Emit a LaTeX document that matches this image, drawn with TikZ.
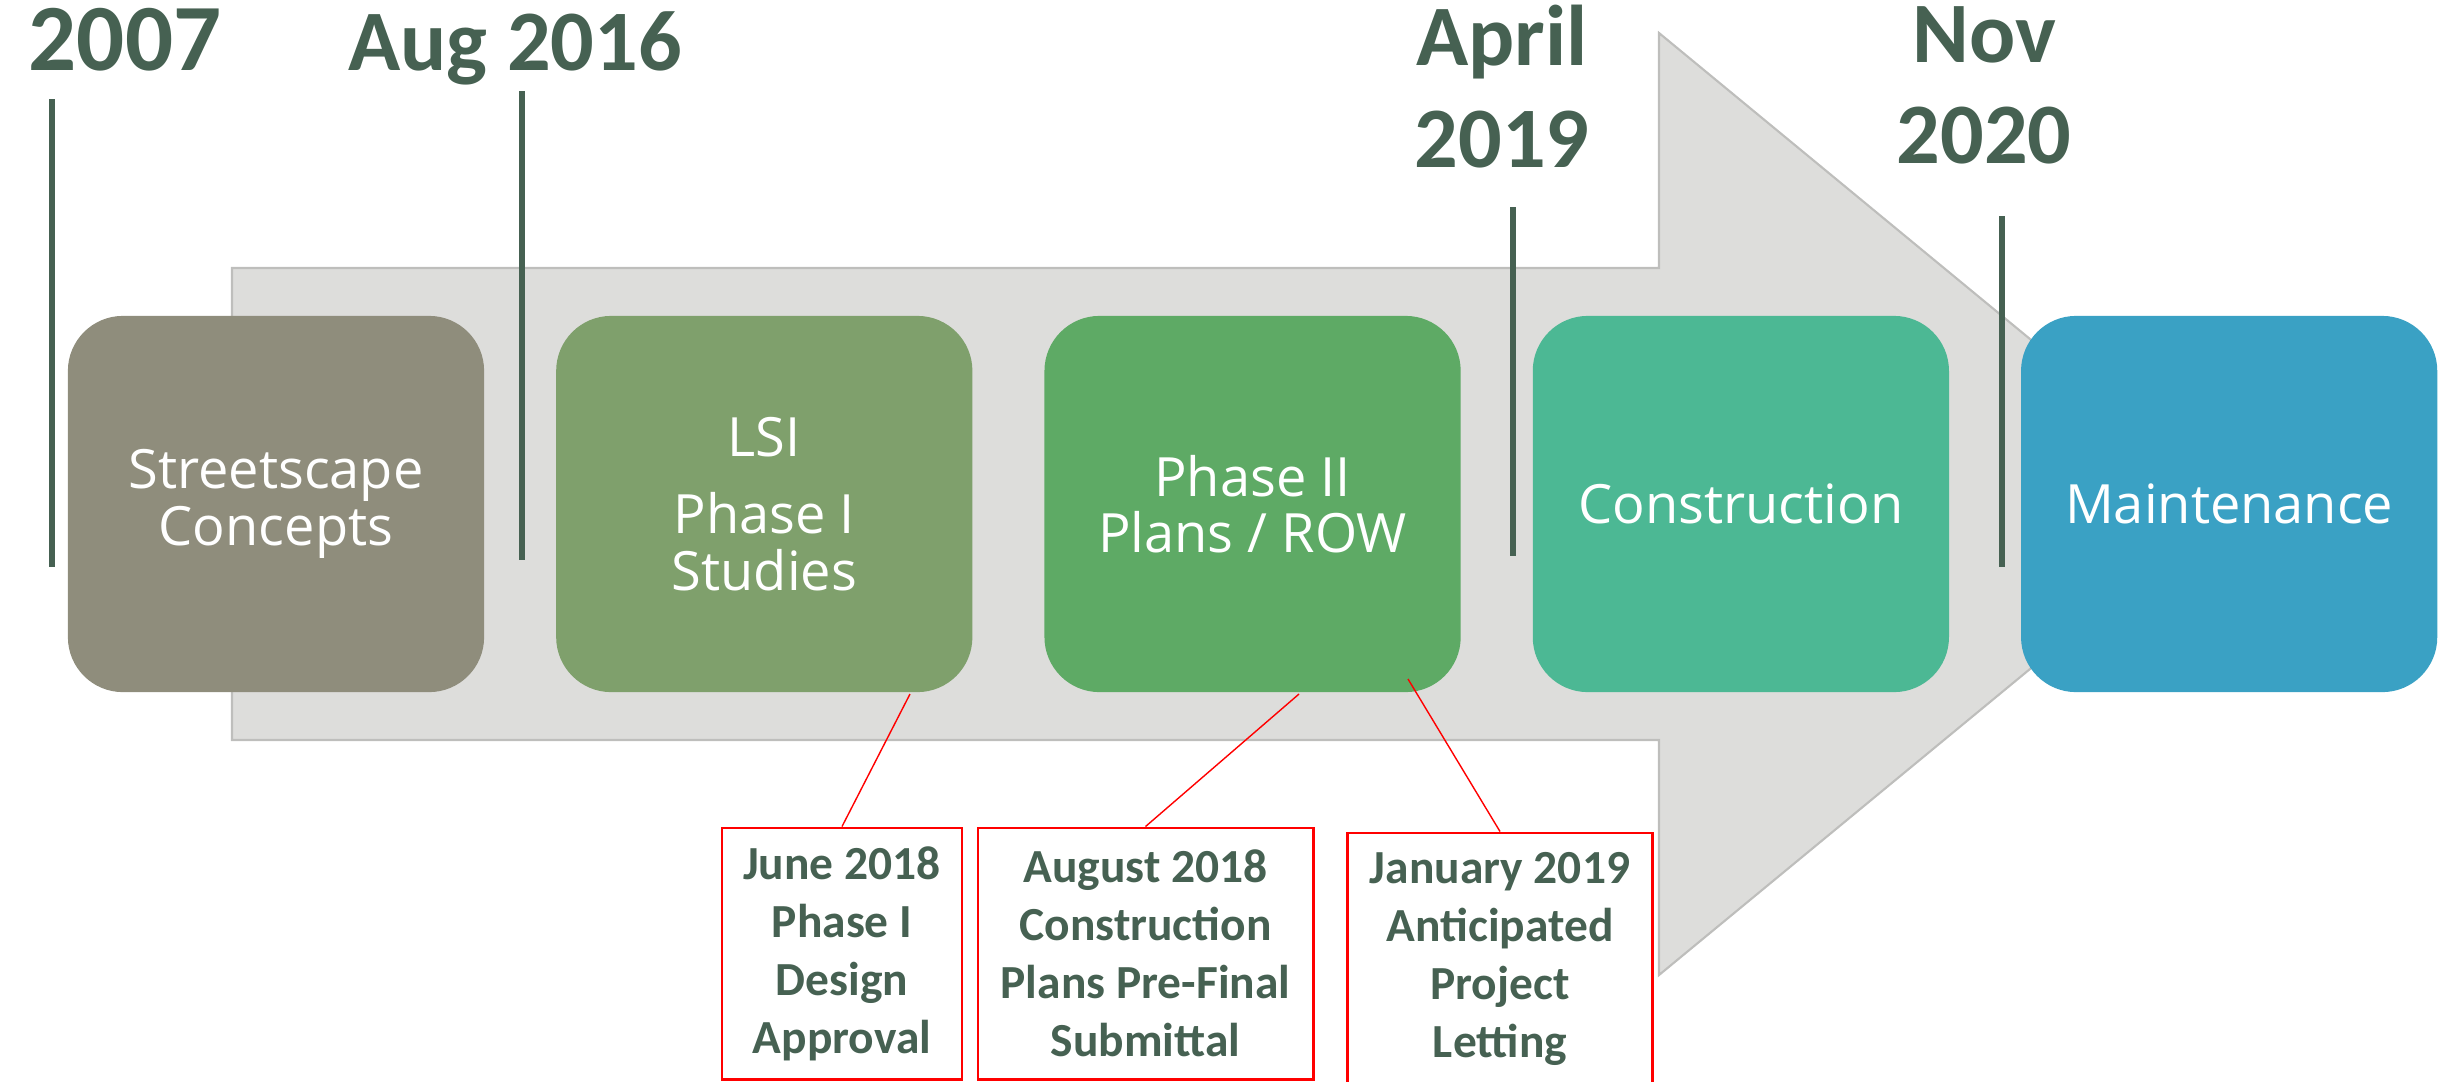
\documentclass[tikz,border=0pt]{standalone}
\usepackage{fontspec}
\setmainfont{Carlito}
\newfontfamily\stagefont{Open Sans}
\usetikzlibrary{positioning}

\definecolor{dategreen}{RGB}{70,97,82}
\definecolor{arrowgray}{RGB}{221,221,219}
\definecolor{arrowedge}{RGB}{190,190,188}
\definecolor{stageA}{RGB}{143,141,124}
\definecolor{stageB}{RGB}{127,160,108}
\definecolor{stageC}{RGB}{94,170,101}
\definecolor{stageD}{RGB}{76,184,148}
\definecolor{stageE}{RGB}{58,161,196}

\begin{document}
\begin{tikzpicture}[x=0.01cm,y=-0.01cm,
  stage/.style={fill=#1,rounded corners=0.55cm,minimum width=4.16cm,minimum height=3.76cm,
    inner sep=0pt,outer sep=0pt,text=white,align=center,font=\stagefont\fontsize{15.4}{16}\selectfont},
  date/.style={anchor=base,inner sep=0pt,text=dategreen,font=\bfseries\fontsize{24.5}{29}\selectfont},
  mark line/.style={dategreen,line width=1.6pt},
  callout/.style={draw=red,line width=0.8pt,inner sep=0pt,text=dategreen,align=center,
    font=\bfseries\fontsize{13.5}{16.5}\selectfont},
  pointer/.style={red,line width=0.4pt}]

\useasboundingbox (0,0) rectangle (2458,1081);
\clip (0,0) rectangle (2458,1081);

% big arrow behind the stages
\begin{scope}
\coordinate (s1) at (232,268);
\coordinate (s2) at (1659,268);
\coordinate (h1) at (1659,33);
\coordinate (tip) at (2230,504);
\coordinate (h2) at (1659,975);
\coordinate (s3) at (1659,740);
\coordinate (s4) at (232,740);
\draw[arrowedge,fill=arrowgray,line width=0.6pt] (s1) -- (s2) -- (h1) -- (tip) -- (h2) -- (s3) -- (s4) -- cycle;
\end{scope}

% stages
\node[stage=stageA] (street) at (276,504) {Streetscape\\Concepts};
\node[stage=stageB,right=0.72cm of street] (lsi) {LSI\\[6pt]Phase I\\Studies};
\node[stage=stageC,right=0.72cm of lsi] (plans) {Phase II\\Plans / ROW};
\node[stage=stageD,right=0.72cm of plans] (constr) {Construction};
\node[stage=stageE,right=0.72cm of constr] (maint) {Maintenance};

% dates on top
\node[date,font=\bfseries\fontsize{27}{29}\selectfont] (d2007) at (125,70) {2007};
\node[date] (d2016) at (515,70) {Aug 2016};
\node[date] (d2019a) at (1502,65) {April};
\node[date] (d2019b) at (1502,167) {2019};
\node[date] (d2020a) at (1984,62) {Nov};
\node[date] (d2020b) at (1984,163) {2020};

\foreach \mx/\mtop/\mbot in {52/99/567,522/91/560,1513/207/556,2002/216/567}
  \draw[mark line] (\mx,\mtop) -- (\mx,\mbot);

% milestones below
\node[callout,minimum width=2.40cm,minimum height=2.51cm] (c1) at (842,953.5) {June 2018\\Phase I\\Design\\Approval};
\node[callout,minimum width=3.35cm,minimum height=2.51cm] (c2) at (1145.5,953.5) {August 2018\\Construction\\Plans Pre-Final\\Submittal};
\node[callout,minimum width=3.05cm,minimum height=2.52cm] (c3) at (1500,959) {January 2019\\Anticipated\\Project\\Letting};

\coordinate (p1) at (910,694);
\coordinate (p2) at (1299,694);
\coordinate (p3) at (1408,679);
\draw[pointer] (c1.north) -- (p1);
\draw[pointer] (c2.north) -- (p2);
\draw[pointer] (c3.north) -- (p3);

\end{tikzpicture}
\end{document}
